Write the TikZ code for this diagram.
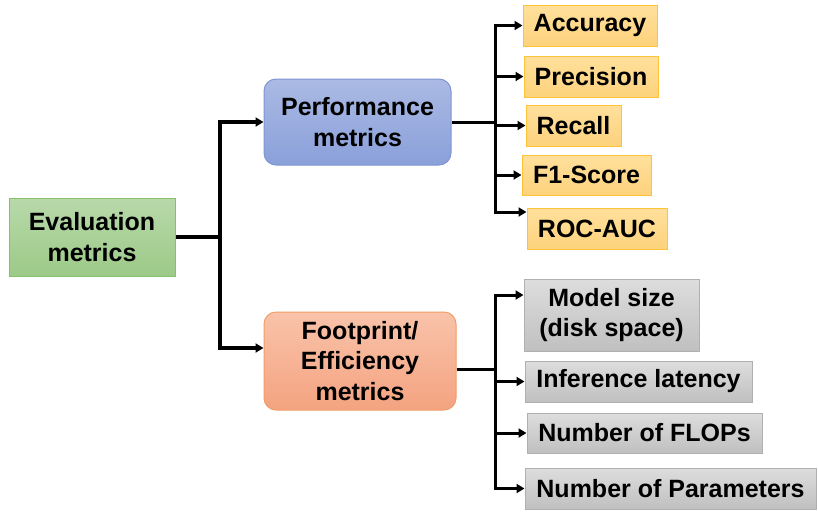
\documentclass[tikz,border=0pt]{standalone}
\usepackage{fontspec}
\setmainfont{Liberation Sans}
\usetikzlibrary{arrows.meta}

\definecolor{grTop}{HTML}{B8D9AA}
\definecolor{grBot}{HTML}{9DCA88}
\definecolor{grLine}{HTML}{86C06C}
\definecolor{blTop}{HTML}{ABBAE4}
\definecolor{blBot}{HTML}{8AA0DA}
\definecolor{blLine}{HTML}{7F96D3}
\definecolor{orTop}{HTML}{F9C3AA}
\definecolor{orBot}{HTML}{F4A380}
\definecolor{orLine}{HTML}{F29D68}
\definecolor{ylTop}{HTML}{FFE09C}
\definecolor{ylBot}{HTML}{FDD27C}
\definecolor{ylLine}{HTML}{FFC33A}
\definecolor{gyTop}{HTML}{DDDDDD}
\definecolor{gyBot}{HTML}{C0C0C0}
\definecolor{gyLine}{HTML}{B0B0B0}

\tikzset{
  box/.style={inner sep=0pt, align=center, line width=1pt,
    font=\fontsize{25}{30.5}\selectfont\bfseries},
  evalbox/.style={box, draw=grLine, top color=grTop, bottom color=grBot},
  perfbox/.style={box, rounded corners=12pt, draw=blLine, top color=blTop, bottom color=blBot},
  footbox/.style={box, rounded corners=12pt, draw=orLine, top color=orTop, bottom color=orBot},
  ylbox/.style={box, draw=ylLine, top color=ylTop, bottom color=ylBot},
  gybox/.style={box, draw=gyLine, top color=gyTop, bottom color=gyBot},
  link/.style={line width=3.2pt, black},
  branch/.style={line width=3pt, black, -{Triangle[length=8pt,width=9pt]}},
}

\begin{document}
\begin{tikzpicture}[x=1pt, y=-1pt]
\useasboundingbox (0,0) rectangle (818,517);

% root and the two metric families
\node[evalbox, minimum width=166pt, minimum height=78pt] (ev) at (92,237) {Evaluation\\metrics};
\node[perfbox, minimum width=187pt, minimum height=86pt] (perf) at (357.5,122) {Performance\\metrics};
\node[footbox, minimum width=192pt, minimum height=98pt] (foot) at (360,361) {Footprint/\\Efficiency\\metrics};

% performance metrics
\node[ylbox, minimum width=134pt, minimum height=41pt] (acc) at (590,25.5) {Accuracy};
\node[ylbox, minimum width=134pt, minimum height=41pt] (prec) at (591,76.5) {Precision};
\node[ylbox, minimum width=95pt, minimum height=41pt] (rec) at (573.5,125.5) {Recall};
\node[ylbox, minimum width=129pt, minimum height=40pt] (fone) at (586.5,175) {F1-Score};
\node[ylbox, minimum width=140pt, minimum height=41pt] (roc) at (597,228.5) {ROC-AUC};

% footprint / efficiency metrics
\node[gybox, minimum width=175pt, minimum height=72pt] (ms) at (611.5,315) {Model size\\(disk space)};
\node[gybox, minimum width=227pt, minimum height=41pt] (inf) at (638.5,381.5) {Inference latency};
\node[gybox, minimum width=235pt, minimum height=40pt] (flop) at (644.5,433) {Number of FLOPs};
\node[gybox, minimum width=291pt, minimum height=41pt] (par) at (670.5,488.5) {Number of Parameters};

% branching points
\coordinate (j0) at (220,237);
\coordinate (pj) at (495,122);
\coordinate (fj) at (495,369);

% root to families
\draw[link] (ev.east) -- (j0);
\draw[branch, line width=3.2pt] (j0) |- (perf.west);
\draw[branch, line width=3.2pt] (j0) |- ([yshift=13pt]foot.west);

% performance branch
\draw[link, line width=3pt] (perf.east) -- (pj);
\draw[branch] (pj) |- (acc.west);
\draw[branch] (pj) |- (prec.west);
\draw[branch] (pj) |- (rec.west);
\draw[branch] (pj) |- (fone.west);
\draw[branch] (pj) |- ([yshift=16.5pt]roc.west);

% footprint branch
\draw[link, line width=3pt] ([yshift=-8pt]foot.east) -- (fj);
\draw[branch] (fj) |- ([yshift=20pt]ms.west);
\draw[branch] (fj) |- (inf.west);
\draw[branch] (fj) |- (flop.west);
\draw[branch] (fj) |- (par.west);
\end{tikzpicture}
\end{document}
